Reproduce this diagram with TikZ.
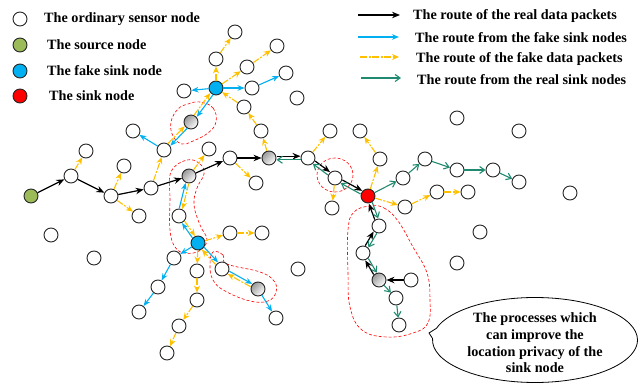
\documentclass[tikz,border=0pt]{standalone}
\usepackage{fontspec}
\setmainfont{Liberation Serif}
\usetikzlibrary{arrows.meta,calc,shapes.callouts,shapes.geometric}
\definecolor{fblue}{HTML}{00B0F0}
\definecolor{fyel}{HTML}{FFC000}
\definecolor{tealr}{HTML}{1F8A70}
\definecolor{srcgreen}{HTML}{9BBB59}
\tikzset{
  sn/.style={circle, draw=black!85, line width=0.9pt, fill=white, minimum size=14pt, inner sep=0pt},
  src/.style={sn, fill=srcgreen},
  fsink/.style={sn, fill=fblue},
  rsink/.style={sn, fill=red},
  gsn/.style={sn, left color=gray!80, right color=white, shading angle=45},
  realr/.style={black, line width=1.2pt, -{Stealth[length=8pt,width=6.5pt]}},
  faker/.style={fblue, line width=1.1pt, -{Stealth[length=7pt,width=5.5pt]}},
  yell/.style={fyel, line width=1.1pt, dash pattern=on 7pt off 1.5pt on 2pt off 1.5pt, -{Stealth[open,length=7pt,width=6pt]}},
  sinkr/.style={tealr, line width=1.1pt, -{Straight Barb[length=5pt,width=7pt]}},
  redloop/.style={red, line width=0.6pt, dash pattern=on 3pt off 2pt},
  lbl/.style={font=\fontsize{14.2}{16.7}\selectfont\bfseries, anchor=west, inner sep=0pt},
  ctext/.style={font=\fontsize{14.2}{16.7}\selectfont\bfseries, align=center, inner sep=0pt}
}
\newcommand\pedge[4]{\draw[#1] ($(#2)!7.5pt!(#3)!#4!90:(#3)$) -- ($(#3)!7.5pt!(#2)!#4!-90:(#2)$);}
\begin{document}
\begin{tikzpicture}[x=1pt,y=-1pt]
\useasboundingbox (0,0) rectangle (641,390);

% ---------- legend (left) ----------
\node[sn] (L1) at (20,19) {};
\node[src] (L2) at (20,45) {};
\node[fsink] (L3) at (20,71) {};
\node[rsink] (L4) at (20,96) {};
\node[lbl] (T1) at (44,19) {The ordinary sensor node};
\node[lbl] (T2) at (47,45) {The source node};
\node[lbl] (T3) at (47,71) {The fake sink node};
\node[lbl] (T4) at (49,96) {The sink node};

% ---------- legend (right) ----------
\coordinate (k1a) at (358,15); \coordinate (k1b) at (400,15);
\coordinate (k2a) at (358,37); \coordinate (k2b) at (399,37);
\coordinate (k3a) at (360,57); \coordinate (k3b) at (399,57);
\coordinate (k4a) at (361,78); \coordinate (k4b) at (401,78);
\draw[realr] (k1a) -- (k1b);
\draw[faker] (k2a) -- (k2b);
\draw[yell] (k3a) -- (k3b);
\draw[sinkr] (k4a) -- (k4b);
\node[lbl] (R1) at (413,16) {The route of the real data packets};
\node[lbl] (R2) at (415,38) {The route from the fake sink nodes};
\node[lbl] (R3) at (416,59) {The route of the fake data packets};
\node[lbl] (R4) at (417,80) {The route from the real sink nodes};

% ---------- red dashed regions ----------
\draw[redloop] plot[smooth cycle, tension=0.7] coordinates {(200,102) (213,108) (216,122) (208,133) (193,141) (182,144) (173,136) (171,122) (178,109) (188,104)};
\draw[redloop] plot[smooth cycle, tension=0.7] coordinates {(187,160) (200,164) (204,174) (197,188) (194,205) (200,225) (207,240) (199,251) (185,253) (175,247) (170,230) (170,200) (171,172)};
\draw[redloop] plot[smooth cycle, tension=0.7] coordinates {(213,252) (223,255) (227,264) (260,272) (274,281) (276,292) (268,301) (250,301) (225,291) (213,280) (210,265)};
\draw[redloop] (335,175) ellipse [x radius=18, y radius=17];
\draw[redloop] plot[smooth cycle, tension=0.7] coordinates {(370,206) (384,208) (398,221) (413,247) (427,273) (430,300) (428,323) (413,333) (387,337) (362,330) (350,307) (348,273) (348,230) (354,212)};

% ---------- nodes ----------
\node[src] (S) at (31,196) {};
\node[sn] (a1) at (71,176) {};
\node[sn] (a2) at (111,196) {};
\node[sn] (a3) at (151,188) {};
\node[gsn] (g1) at (189,176) {};
\node[sn] (a4) at (230,158) {};
\node[gsn] (g2) at (269,158) {};
\node[sn] (a5) at (308,158) {};
\node[sn] (a6) at (335,178) {};
\node[rsink] (R) at (368,196) {};
\node[sn] (b1) at (86,151) {};
\node[sn] (b2) at (124,166) {};
\node[sn] (b3) at (139,216) {};
\node[sn] (b4) at (164,150) {};
\node[sn] (b5) at (133,131) {};
\node[gsn] (g3) at (191,122) {};
\node[fsink] (F1) at (216,88) {};
\node[sn] (c1) at (184,91) {};
\node[sn] (c2) at (216,59) {};
\node[sn] (c3) at (235,32) {};
\node[sn] (c4) at (247,67) {};
\node[sn] (c5) at (277,46) {};
\node[sn] (c6) at (252,88) {};
\node[sn] (c7) at (286,73) {};
\node[sn] (c8) at (297,98) {};
\node[sn] (c9) at (244,107) {};
\node[sn] (c10) at (261,131) {};
\node[sn] (b6) at (209,149) {};
\node[sn] (d1) at (256,183) {};
\node[sn] (e1) at (330,131) {};
\node[sn] (e2) at (360,131) {};
\node[sn] (e3) at (380,159) {};
\node[sn] (e4) at (332,208) {};
\node[sn] (e5) at (457,118) {};
\node[sn] (e6) at (403,178) {};
\node[sn] (e7) at (425,159) {};
\node[sn] (e8) at (457,170) {};
\node[sn] (e9) at (493,170) {};
\node[sn] (e10) at (519,182) {};
\node[sn] (e11) at (519,131) {};
\node[sn] (e12) at (405,207) {};
\node[sn] (e13) at (437,192) {};
\node[sn] (e14) at (468,192) {};
\node[sn] (e15) at (570,193) {};
\node[sn] (e16) at (480,232) {};
\node[sn] (e17) at (457,263) {};
\node[sn] (f1) at (379,226) {};
\node[sn] (f2) at (363,253) {};
\node[gsn] (g4) at (379,280) {};
\node[sn] (f3) at (411,280) {};
\node[sn] (f4) at (396,298) {};
\node[sn] (f5) at (399,325) {};
\node[fsink] (F2) at (198,243) {};
\node[sn] (h1) at (179,216) {};
\node[sn] (h2) at (174,258) {};
\node[sn] (h3) at (158,287) {};
\node[sn] (h4) at (139,312) {};
\node[sn] (h5) at (197,271) {};
\node[sn] (h6) at (197,300) {};
\node[sn] (h7) at (179,326) {};
\node[sn] (h8) at (167,353) {};
\node[sn] (h9) at (230,233) {};
\node[sn] (h10) at (262,233) {};
\node[sn] (h11) at (222,269) {};
\node[gsn] (g5) at (258,289) {};
\node[sn] (h12) at (276,318) {};
\node[sn] (i1) at (51,235) {};
\node[sn] (i2) at (94,258) {};
\node[sn] (i3) at (298,269) {};

% ---------- real data route (black) ----------
\draw[realr] (S) -- (a1);
\draw[realr] (a1) -- (a2);
\draw[realr] (a2) -- (a3);
\draw[realr] (a3) -- (g1);
\draw[realr] (g1) -- (a4);
\draw[realr] (a4) -- (g2);
\pedge{realr}{g2}{a5}{1.8pt}
\pedge{realr}{a5}{a6}{1.8pt}
\pedge{realr}{a6}{R}{1.8pt}
\draw[realr] (f3) -- (g4);
\pedge{realr}{g4}{f2}{1.8pt}
\pedge{realr}{f2}{f1}{1.8pt}
\pedge{realr}{f1}{R}{1.8pt}

% ---------- real sink route (teal) ----------
\pedge{sinkr}{a5}{g2}{1.8pt}
\pedge{sinkr}{a6}{a5}{1.8pt}
\pedge{sinkr}{R}{a6}{1.8pt}
\pedge{sinkr}{R}{f1}{1.8pt}
\pedge{sinkr}{f1}{f2}{1.8pt}
\pedge{sinkr}{f2}{g4}{1.8pt}
\draw[sinkr] (g4) -- (f4);
\draw[sinkr] (f4) -- (f5);
\draw[sinkr] (R) -- (e6);
\draw[sinkr] (e6) -- (e7);
\draw[sinkr] (e7) -- (e8);
\draw[sinkr] (e8) -- (e9);
\draw[sinkr] (e9) -- (e10);

% ---------- fake sink route (blue) ----------
\draw[faker] (F1) -- (c1);
\draw[faker] (F1) -- (c6);
\draw[faker] (c6) -- (c7);
\pedge{faker}{F1}{g3}{1.6pt}
\pedge{faker}{g3}{b4}{1.6pt}
\draw[faker] (b4) -- (b5);
\pedge{faker}{F2}{h1}{1.6pt}
\pedge{faker}{h1}{g1}{1.6pt}
\draw[faker] (F2) -- (h2);
\draw[faker] (h2) -- (h3);
\draw[faker] (h3) -- (h4);
\pedge{faker}{F2}{h11}{1.6pt}
\pedge{faker}{h11}{g5}{1.6pt}
\draw[faker] (g5) -- (h12);

% ---------- fake data packets (yellow) ----------
\pedge{yell}{g3}{F1}{1.6pt}
\pedge{yell}{b4}{g3}{1.6pt}
\pedge{yell}{h1}{F2}{1.6pt}
\pedge{yell}{g1}{h1}{1.6pt}
\pedge{yell}{h11}{F2}{1.6pt}
\pedge{yell}{g5}{h11}{1.6pt}
\draw[yell] (a1) -- (b1);
\draw[yell] (a2) -- (b2);
\draw[yell] (a2) -- (b3);
\draw[yell] (a3) -- (b4);
\draw[yell] (g1) -- (b6);
\draw[yell] (F1) -- (c2);
\draw[yell] (c2) -- (c3);
\draw[yell] (F1) -- (c4);
\draw[yell] (c4) -- (c5);
\draw[yell] (c9) -- (F1);
\draw[yell] (c10) -- (c9);
\draw[yell] (g2) -- (c10);
\draw[yell] (a4) -- (d1);
\draw[yell] (a5) -- (e1);
\draw[yell] (a6) -- (e4);
\draw[yell] (R) -- (e3);
\draw[yell] (e3) -- (e2);
\draw[yell] (R) -- (e12);
\draw[yell] (e12) -- (e13);
\draw[yell] (e13) -- (e14);
\draw[yell] (F2) -- (h9);
\draw[yell] (h9) -- (h10);
\draw[yell] (F2) -- (h5);
\draw[yell] (h5) -- (h6);
\draw[yell] (h6) -- (h7);
\draw[yell] (h7) -- (h8);

% ---------- callout ----------
\coordinate (tip) at (429,333);
\node[ellipse callout, draw=black, line width=0.8pt, fill=white, minimum width=205pt, minimum height=85pt, inner sep=0pt, callout absolute pointer={(tip)}, callout pointer arc=14] (call) at (535,340) {};
\node[ctext] (calltext) at ([yshift=-3pt]call.center) {The processes which\\can improve the\\location privacy of the\\sink node};
\end{tikzpicture}
\end{document}
